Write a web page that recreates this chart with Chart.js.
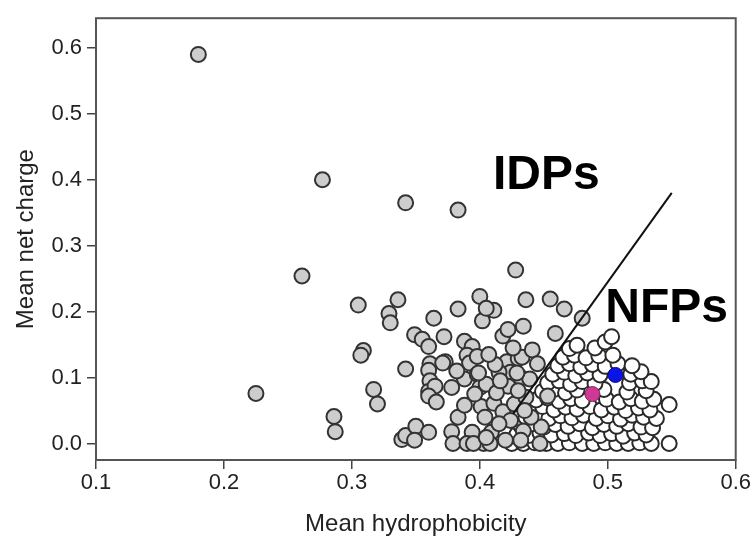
<!DOCTYPE html>
<html>
<head>
<meta charset="utf-8">
<script src="https://cdn.jsdelivr.net/npm/chart.js@4.4.1/dist/chart.umd.min.js"></script>
<style>
  html, body { margin: 0; padding: 0; background: #fff; }
  #wrap { width: 752px; height: 546px; position: relative; }
</style>
</head>
<body>
<div id="wrap"><canvas id="chart"></canvas></div>
<script>
// axis ticks
const xTicks = [0.1, 0.2, 0.3, 0.4, 0.5, 0.6];
const yTicks = [0.0, 0.1, 0.2, 0.3, 0.4, 0.5, 0.6];

// grey points (IDPs) [hydrophobicity, net charge]
const idpPoints = [
  [0.180,0.590],[0.277,0.400],[0.342,0.365],[0.383,0.354],[0.261,0.254],[0.225,0.076],[0.428,0.263],
  [0.305,0.210],[0.336,0.218],[0.329,0.197],[0.330,0.183],[0.383,0.204],[0.364,0.190],[0.400,0.223],
  [0.402,0.186],[0.411,0.202],[0.405,0.205],[0.436,0.218],[0.434,0.178],[0.455,0.219],[0.466,0.204],
  [0.480,0.190],[0.459,0.167],[0.418,0.163],[0.422,0.173],
  [0.349,0.165],[0.355,0.158],[0.360,0.147],[0.372,0.162],[0.388,0.155],[0.394,0.147],
  [0.309,0.141],[0.307,0.134],[0.342,0.113],[0.361,0.121],[0.373,0.124],[0.360,0.111],[0.371,0.122],
  [0.317,0.082],[0.320,0.060],[0.361,0.095],[0.360,0.079],[0.365,0.087],[0.360,0.072],[0.366,0.063],
  [0.286,0.041],[0.287,0.018],[0.339,0.006],[0.342,0.012],[0.350,0.026],[0.349,0.005],[0.360,0.017],
  [0.378,0.018],[0.379,0.000],[0.383,0.040],[0.388,0.058],[0.388,0.098],[0.390,0.134],[0.392,0.122],
  [0.398,0.132],[0.398,0.105],[0.400,0.085],[0.401,0.056],[0.405,0.090],[0.411,0.061],
  [0.394,0.017],[0.403,0.000],[0.390,0.000],[0.409,0.017],[0.418,0.048],[0.424,0.035],
  [0.418,0.118],[0.421,0.124],[0.430,0.129],[0.433,0.131],[0.441,0.142],[0.445,0.121],[0.424,0.108],
  [0.415,0.108],[0.422,0.087],[0.432,0.100],[0.439,0.098],[0.448,0.025],[0.447,0.000],
  [0.399,0.107],[0.413,0.077],[0.429,0.107],[0.434,0.019],[0.395,0.000],[0.408,0.000],[0.405,0.009],
  [0.404,0.040],[0.415,0.030],[0.427,0.060],[0.436,0.070],[0.430,0.080],[0.412,0.120],[0.407,0.135],
  [0.426,0.145],[0.416,0.095],[0.396,0.075],[0.382,0.110],[0.378,0.085],[0.420,0.005],[0.432,0.005],
  [0.440,0.040],[0.435,0.050],[0.453,0.072]
];

// white points (NFPs)
const nfpPoints = [
  [0.425,0.000],[0.434,0.000],[0.443,0.001],[0.452,0.000],[0.461,0.000],[0.470,0.001],[0.480,0.000],
  [0.489,0.000],[0.498,0.001],[0.507,0.000],[0.516,0.000],[0.525,0.001],[0.534,0.000],[0.548,0.000],
  [0.429,0.014],[0.438,0.012],[0.447,0.016],[0.456,0.013],[0.466,0.015],[0.475,0.012],[0.485,0.016],
  [0.494,0.012],[0.503,0.015],[0.512,0.011],[0.521,0.016],[0.530,0.013],
  [0.432,0.027],[0.441,0.030],[0.450,0.025],[0.459,0.029],[0.469,0.026],[0.478,0.030],[0.488,0.024],
  [0.497,0.029],[0.507,0.026],[0.516,0.030],[0.526,0.025],[0.535,0.024],
  [0.436,0.040],[0.445,0.043],[0.454,0.038],[0.463,0.042],[0.472,0.039],[0.481,0.043],[0.491,0.038],
  [0.500,0.042],[0.510,0.037],[0.519,0.043],[0.528,0.040],[0.538,0.038],
  [0.440,0.053],[0.449,0.056],[0.458,0.051],[0.467,0.055],[0.476,0.052],[0.486,0.056],[0.495,0.051],
  [0.505,0.055],[0.514,0.050],[0.524,0.054],[0.533,0.051],[0.548,0.059],
  [0.444,0.066],[0.453,0.069],[0.462,0.064],[0.471,0.068],[0.480,0.065],[0.499,0.067],[0.509,0.063],
  [0.518,0.068],[0.527,0.064],[0.536,0.067],
  [0.449,0.079],[0.458,0.082],[0.467,0.077],[0.476,0.081],[0.497,0.082],[0.515,0.078],[0.530,0.080],
  [0.453,0.092],[0.462,0.095],[0.471,0.090],[0.480,0.094],[0.490,0.091],[0.517,0.092],[0.527,0.095],
  [0.534,0.094],
  [0.457,0.105],[0.466,0.108],[0.475,0.103],[0.484,0.107],[0.494,0.104],[0.518,0.105],[0.526,0.109],
  [0.461,0.118],[0.470,0.121],[0.479,0.116],[0.488,0.120],[0.498,0.117],[0.508,0.121],[0.519,0.118],
  [0.465,0.131],[0.474,0.134],[0.483,0.130],[0.493,0.133],[0.504,0.134],
  [0.470,0.144],[0.476,0.149],[0.490,0.145],[0.498,0.154],
  [0.503,0.162]
];

// highlighted proteins
const magentaPoint = [[0.488, 0.075]];
const bluePoint = [[0.506, 0.104]];

// boundary line
const boundaryLine = [[0.426, 0.045], [0.55, 0.38]];

// group labels
const groupLabels = ['IDPs', 'NFPs'];
const groupLabelX = [0.452, 0.546];
const groupLabelY = [0.386, 0.184];

const toXY = arr => arr.map(p => ({ x: p[0], y: p[1] }));
const FONT = "'Liberation Sans', Arial, Helvetica, sans-serif";
Chart.defaults.font.family = FONT;

const frame = {
  id: 'frame',
  beforeDatasetsDraw(chart) {
    const { ctx, chartArea: a } = chart;
    ctx.save();
    ctx.strokeStyle = '#555';
    ctx.lineWidth = 2;
    ctx.strokeRect(a.left, a.top, a.right - a.left, a.bottom - a.top);
    ctx.restore();
  }
};

const groupText = {
  id: 'groupText',
  afterDatasetsDraw(chart) {
    const { ctx, scales: { x, y } } = chart;
    ctx.save();
    ctx.fillStyle = '#000';
    ctx.font = 'bold 48px ' + FONT;
    ctx.textAlign = 'center';
    ctx.textBaseline = 'alphabetic';
    groupLabels.forEach((t, i) => {
      ctx.fillText(t, x.getPixelForValue(groupLabelX[i]), y.getPixelForValue(groupLabelY[i]));
    });
    ctx.restore();
  }
};

new Chart(document.getElementById('chart'), {
  type: 'scatter',
  data: {
    datasets: [
      {
        label: 'magenta',
        data: toXY(magentaPoint),
        backgroundColor: '#d03896',
        borderColor: '#7a2a5a',
        pointRadius: 7.5,
        borderWidth: 1,
        order: 0
      },
      {
        label: 'blue',
        data: toXY(bluePoint),
        backgroundColor: '#0a14e6',
        borderColor: '#0a0a80',
        pointRadius: 7.5,
        borderWidth: 1,
        order: 0
      },
      {
        type: 'line',
        label: 'boundary',
        data: toXY(boundaryLine),
        borderColor: '#111',
        borderWidth: 2,
        pointRadius: 0,
        fill: false,
        order: 1
      },
      {
        label: 'IDPs',
        data: toXY(idpPoints),
        backgroundColor: '#cdcdcd',
        borderColor: '#333',
        pointRadius: 7.5,
        borderWidth: 2,
        order: 2
      },
      {
        label: 'NFPs',
        data: toXY(nfpPoints),
        backgroundColor: '#ffffff',
        borderColor: '#2a2a2a',
        pointRadius: 7.5,
        borderWidth: 2,
        order: 3
      }
    ]
  },
  options: {
    responsive: true,
    maintainAspectRatio: false,
    animation: false,
    layout: { padding: { left: 0, top: 12, right: 16, bottom: 0 } },
    plugins: {
      legend: { display: false },
      tooltip: { enabled: false }
    },
    scales: {
      x: {
        type: 'linear',
        min: 0.1,
        max: 0.6,
        afterBuildTicks: s => { s.ticks = xTicks.map(v => ({ value: v })); },
        afterFit: s => { s.height = 86; },
        ticks: {
          autoSkip: false,
          maxRotation: 0,
          padding: 1,
          color: '#222',
          font: { size: 22 },
          callback: v => Number(v).toFixed(1)
        },
        grid: { drawOnChartArea: false, tickLength: 9, color: '#444', lineWidth: 1.5 },
        border: { display: false },
        title: {
          display: true,
          text: 'Mean hydrophobicity',
          color: '#222',
          font: { size: 24 },
          padding: { top: 0, bottom: 7 }
        }
      },
      y: {
        type: 'linear',
        min: -0.025,
        max: 0.645,
        afterBuildTicks: s => { s.ticks = yTicks.map(v => ({ value: v })); },
        afterFit: s => { s.width = 96; },
        ticks: {
          autoSkip: false,
          padding: 5,
          color: '#222',
          font: { size: 22 },
          callback: v => Number(v).toFixed(1)
        },
        grid: { drawOnChartArea: false, tickLength: 9, color: '#444', lineWidth: 1.5 },
        border: { display: false },
        title: {
          display: true,
          text: 'Mean net charge',
          color: '#222',
          font: { size: 24 },
          padding: { top: 12, bottom: 0 }
        }
      }
    }
  },
  plugins: [frame, groupText]
});
</script>
</body>
</html>
